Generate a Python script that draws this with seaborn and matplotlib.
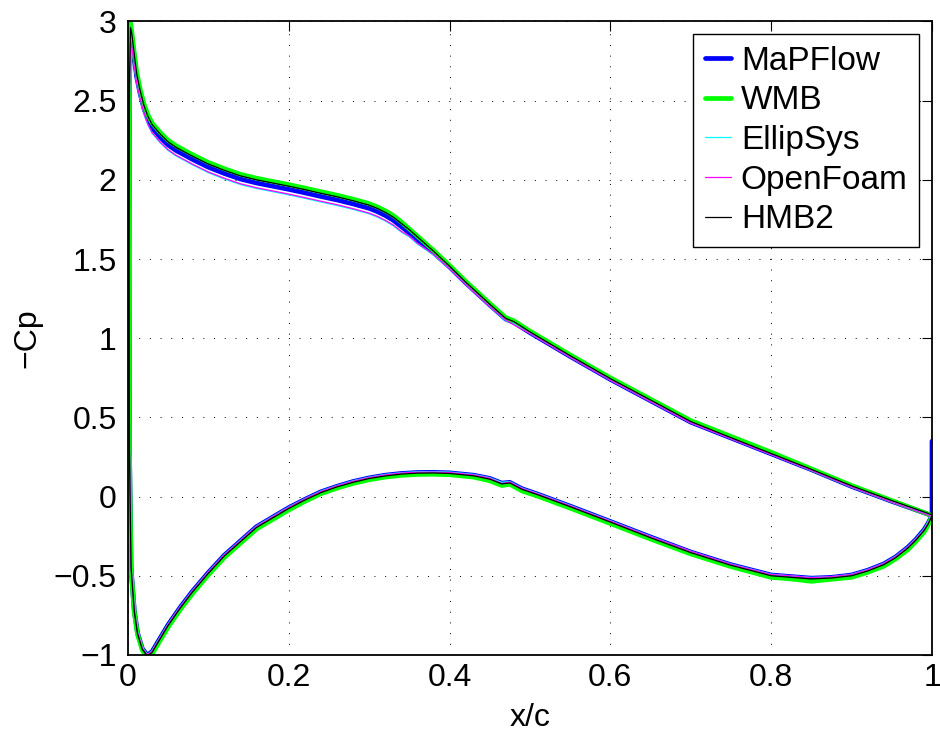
import matplotlib
matplotlib.use("Agg")
import matplotlib.pyplot as plt
import seaborn as sns
import pandas as pd

# ---------------- data ----------------
SOLVERS = ["MaPFlow", "WMB", "EllipSys", "OpenFoam", "HMB2"]

# upper surface, trailing edge -> leading edge
X_UP = [1.0, 0.95, 0.90, 0.85, 0.80, 0.75, 0.70, 0.65, 0.60, 0.55, 0.50, 0.48, 0.47, 0.45,
        0.42, 0.40, 0.38, 0.37, 0.36, 0.35, 0.34, 0.33, 0.32, 0.31, 0.30, 0.28, 0.26, 0.24,
        0.22, 0.20, 0.18, 0.16, 0.14, 0.12, 0.10, 0.08, 0.06, 0.05, 0.04, 0.03, 0.025, 0.02,
        0.015, 0.011, 0.008, 0.005, 0.0034, 0.002, 0.0015]
# lower surface, leading edge -> trailing edge
X_LO = [0.002, 0.004, 0.008, 0.012, 0.018, 0.024, 0.03, 0.037, 0.05, 0.065, 0.08, 0.10, 0.12,
        0.14, 0.16, 0.18, 0.20, 0.22, 0.24, 0.26, 0.28, 0.30, 0.32, 0.34, 0.36, 0.38, 0.40,
        0.43, 0.45, 0.465, 0.475, 0.49, 0.51, 0.55, 0.60, 0.65, 0.70, 0.75, 0.80, 0.825, 0.85,
        0.875, 0.90, 0.92, 0.94, 0.955, 0.97, 0.98, 0.99, 0.995, 1.0]

MAPFLOW_UP = [-0.12, -0.03, 0.064, 0.17, 0.27, 0.37, 0.47, 0.605, 0.74, 0.885, 1.035, 1.10, 1.12, 1.21,
              1.35, 1.45, 1.54, 1.58, 1.62, 1.665, 1.705, 1.745, 1.775, 1.80, 1.82, 1.848, 1.873, 1.895,
              1.918, 1.94, 1.96, 1.98, 2.005, 2.04, 2.08, 2.13, 2.185, 2.22, 2.27, 2.33, 2.38, 2.45,
              2.55, 2.65, 2.77, 2.90, 2.95, 2.6, 1.5]
WMB_UP = [-0.12, -0.025, 0.07, 0.175, 0.28, 0.38, 0.48, 0.615, 0.75, 0.895, 1.045, 1.11, 1.13, 1.22,
          1.36, 1.46, 1.555, 1.60, 1.645, 1.69, 1.735, 1.775, 1.805, 1.83, 1.85, 1.878, 1.903, 1.925,
          1.948, 1.97, 1.99, 2.01, 2.035, 2.07, 2.11, 2.16, 2.215, 2.25, 2.30, 2.36, 2.41, 2.48,
          2.58, 2.68, 2.80, 2.93, 2.99, 2.62, 1.5]
ELLIPSYS_UP = [-0.12, -0.035, 0.06, 0.165, 0.265, 0.365, 0.465, 0.60, 0.735, 0.88, 1.03, 1.09, 1.11, 1.20,
               1.34, 1.44, 1.525, 1.56, 1.595, 1.64, 1.67, 1.71, 1.74, 1.765, 1.785, 1.813, 1.838, 1.86,
               1.883, 1.905, 1.925, 1.945, 1.97, 2.005, 2.045, 2.095, 2.15, 2.185, 2.235, 2.295, 2.345, 2.415,
               2.515, 2.61, 2.73, 2.85, 2.90, 2.55, 1.5]
OPENFOAM_UP = [-0.125, -0.035, 0.06, 0.165, 0.265, 0.365, 0.465, 0.60, 0.735, 0.88, 1.03, 1.085, 1.115, 1.20,
               1.34, 1.44, 1.53, 1.565, 1.60, 1.645, 1.675, 1.715, 1.745, 1.77, 1.79, 1.818, 1.843, 1.865,
               1.888, 1.91, 1.93, 1.95, 1.975, 2.01, 2.05, 2.10, 2.155, 2.19, 2.24, 2.30, 2.35, 2.42,
               2.52, 2.61, 2.72, 2.84, 2.88, 2.55, 1.5]
HMB2_UP = [-0.115, -0.025, 0.068, 0.172, 0.272, 0.372, 0.474, 0.61, 0.745, 0.89, 1.04, 1.105, 1.125, 1.215,
           1.355, 1.455, 1.55, 1.595, 1.64, 1.685, 1.725, 1.765, 1.795, 1.82, 1.84, 1.868, 1.893, 1.915,
           1.938, 1.96, 1.98, 2.0, 2.025, 2.06, 2.10, 2.15, 2.205, 2.24, 2.29, 2.35, 2.40, 2.47,
           2.57, 2.67, 2.79, 2.92, 2.96, 2.6, 1.5]

MAPFLOW_LO = [0.3, -0.45, -0.72, -0.86, -0.96, -1.0, -0.98, -0.92, -0.81, -0.70, -0.60, -0.48, -0.37,
              -0.28, -0.19, -0.13, -0.07, -0.018, 0.03, 0.065, 0.095, 0.118, 0.135, 0.146, 0.152, 0.153, 0.15,
              0.135, 0.115, 0.085, 0.09, 0.05, 0.015, -0.06, -0.157, -0.255, -0.35, -0.43, -0.495, -0.505, -0.515,
              -0.51, -0.495, -0.465, -0.425, -0.38, -0.32, -0.27, -0.21, -0.17, -0.12]
WMB_LO = [0.3, -0.46, -0.73, -0.87, -0.97, -1.01, -0.995, -0.935, -0.825, -0.715, -0.615, -0.495, -0.385,
          -0.295, -0.205, -0.145, -0.085, -0.031, 0.018, 0.053, 0.083, 0.106, 0.123, 0.134, 0.14, 0.141, 0.138,
          0.123, 0.10, 0.07, 0.078, 0.036, 0.002, -0.073, -0.17, -0.268, -0.362, -0.442, -0.51, -0.52, -0.535,
          -0.522, -0.51, -0.478, -0.44, -0.393, -0.335, -0.283, -0.225, -0.182, -0.125]
ELLIPSYS_LO = [0.3, -0.44, -0.71, -0.855, -0.955, -0.995, -0.975, -0.915, -0.805, -0.695, -0.595, -0.475, -0.365,
               -0.275, -0.185, -0.125, -0.065, -0.013, 0.035, 0.07, 0.10, 0.123, 0.14, 0.151, 0.157, 0.158, 0.155,
               0.14, 0.12, 0.09, 0.095, 0.055, 0.02, -0.055, -0.152, -0.25, -0.345, -0.425, -0.49, -0.50, -0.51,
               -0.505, -0.49, -0.46, -0.42, -0.375, -0.315, -0.265, -0.205, -0.165, -0.12]
OPENFOAM_LO = [0.3, -0.445, -0.715, -0.858, -0.958, -0.998, -0.978, -0.918, -0.808, -0.698, -0.598, -0.478, -0.368,
               -0.278, -0.188, -0.128, -0.068, -0.015, 0.032, 0.068, 0.097, 0.12, 0.137, 0.149, 0.154, 0.155, 0.152,
               0.137, 0.117, 0.082, 0.092, 0.052, 0.017, -0.058, -0.155, -0.252, -0.345, -0.427, -0.492, -0.50, -0.512,
               -0.505, -0.492, -0.462, -0.422, -0.378, -0.318, -0.268, -0.21, -0.17, -0.125]
HMB2_LO = [0.3, -0.45, -0.725, -0.865, -0.965, -1.004, -0.985, -0.925, -0.815, -0.705, -0.605, -0.485, -0.375,
           -0.285, -0.195, -0.135, -0.075, -0.022, 0.025, 0.061, 0.09, 0.114, 0.13, 0.142, 0.148, 0.149, 0.146,
           0.131, 0.11, 0.08, 0.086, 0.046, 0.011, -0.064, -0.161, -0.26, -0.354, -0.434, -0.50, -0.51, -0.52,
           -0.514, -0.50, -0.47, -0.43, -0.385, -0.325, -0.275, -0.215, -0.175, -0.12]

# extra trailing-edge points (vertical segment at x/c = 1)
MAPFLOW_TE = [0.35]
WMB_TE = []
ELLIPSYS_TE = [-0.29]
OPENFOAM_TE = [-0.21]
HMB2_TE = []

X_TICKS = [0, 0.2, 0.4, 0.6, 0.8, 1.0]
X_TICK_LABELS = ["0", "0.2", "0.4", "0.6", "0.8", "1"]
Y_TICKS = [-1, -0.5, 0, 0.5, 1, 1.5, 2, 2.5, 3]
Y_TICK_LABELS = ["\u22121", "\u22120.5", "0", "0.5", "1", "1.5", "2", "2.5", "3"]

# ---------------- style ----------------
sns.set_theme(style="white")
plt.rcParams["font.family"] = ["Liberation Sans", "DejaVu Sans"]
plt.rcParams["text.color"] = "black"
plt.rcParams["axes.labelcolor"] = "black"
plt.rcParams["xtick.color"] = "black"
plt.rcParams["ytick.color"] = "black"
FS = 23
LFS = 24

series = [
    ("MaPFlow", "#0000ff", 3.4, MAPFLOW_UP, MAPFLOW_LO, MAPFLOW_TE),
    ("WMB", "#00ff00", 3.4, WMB_UP, WMB_LO, WMB_TE),
    ("EllipSys", "#00ffff", 0.9, ELLIPSYS_UP, ELLIPSYS_LO, ELLIPSYS_TE),
    ("OpenFoam", "#ff00ff", 0.9, OPENFOAM_UP, OPENFOAM_LO, OPENFOAM_TE),
    ("HMB2", "#000000", 0.9, HMB2_UP, HMB2_LO, HMB2_TE),
]

fig, ax = plt.subplots(figsize=(9.4, 7.39), dpi=100)
fig.subplots_adjust(left=0.136, right=0.9915, bottom=0.1137, top=0.971)

for name, color, lw, up, lo, te in series:
    xs = X_UP + X_LO + [1.0] * len(te)
    ys = up + lo + te
    df = pd.DataFrame({"x": xs, "cp": ys})
    sns.lineplot(data=df, x="x", y="cp", sort=False, estimator=None, color=color,
                 linewidth=lw, label=name, ax=ax)

ax.set_xlim(0, 1)
ax.set_ylim(-1, 3)
ax.set_xticks(X_TICKS)
ax.set_xticklabels(X_TICK_LABELS)
ax.set_yticks(Y_TICKS)
ax.set_yticklabels(Y_TICK_LABELS)
ax.tick_params(axis="both", which="major", direction="in", length=7, width=0.8,
               top=True, right=True, labelsize=FS, colors="black", labelcolor="black")
ax.tick_params(axis="x", pad=6)
ax.tick_params(axis="y", pad=8)
ax.grid(True, color="black", linestyle=(0, (1, 10)), linewidth=0.7)
for s in ax.spines.values():
    s.set_color("black")
    s.set_linewidth(1.3)

ax.set_xlabel("x/c", fontsize=FS, labelpad=7, color="black")
ax.set_ylabel("\u2212Cp", fontsize=FS, labelpad=8, color="black")

leg = ax.legend(loc="upper right", fontsize=LFS, frameon=True, fancybox=False,
                edgecolor="black", framealpha=1, borderaxespad=0.38,
                handlelength=0.78, handletextpad=0.3, labelspacing=0.26, borderpad=0.35)
leg.get_frame().set_linewidth(1.0)
for t in leg.get_texts():
    t.set_color("black")

fig.savefig("out.png", dpi=100)
